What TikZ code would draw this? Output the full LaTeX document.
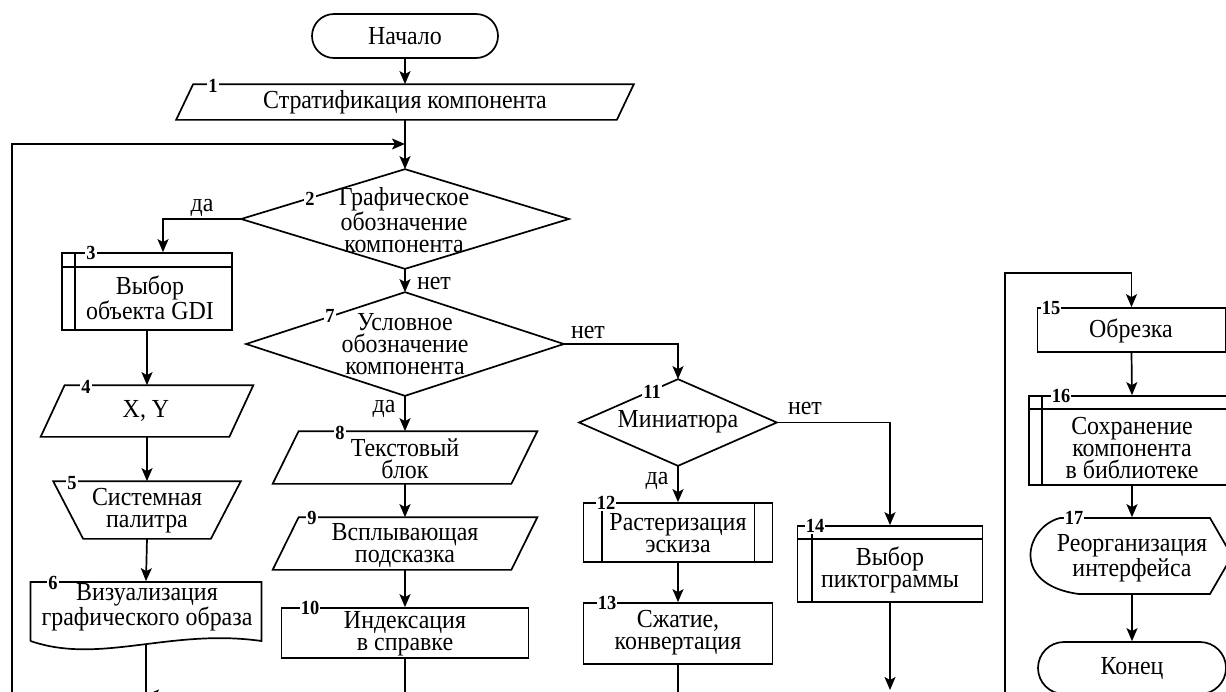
\documentclass[tikz,border=0pt]{standalone}
\usepackage{fontspec}
\setmainfont[FakeStretch=0.92]{Liberation Serif}
\usetikzlibrary{arrows.meta,calc}
\begin{document}
\begin{tikzpicture}[x=1pt,y=-1pt, line width=1.7pt,
  arr/.style={-{Stealth[length=13pt,width=11pt,inset=3pt]}},
  txt/.style={align=center, inner sep=0pt, font=\fontsize{26pt}{22pt}\selectfont},
  num/.style={fill=white, inner sep=1.2pt, font=\fontsize{20pt}{20pt}\selectfont\bfseries},
  lbl/.style={inner sep=0pt, font=\fontsize{26pt}{26pt}\selectfont},
  box/.style n args={2}{inner sep=0pt, minimum width=#1pt, minimum height=#2pt},
]
\useasboundingbox (0,0) rectangle (1226,691);
\clip (0,0) rectangle (1226,691);

% ---------- shapes ----------
\node[box={186}{44}, draw, rounded corners=22pt] (start) at (405,36) {};

\node[box={456}{34}] (b1) at (405,102) {};
\draw ([xshift=17pt]b1.north west) -- (b1.north east) -- ([xshift=-17pt]b1.south east) -- (b1.south west) -- cycle;

\node[box={326}{98}] (d2) at (405,219) {};
\draw (d2.north) -- (d2.east) -- (d2.south) -- (d2.west) -- cycle;

\node[box={170}{77}, draw] (b3) at (147,291.5) {};
\draw ([yshift=-15pt]b3.north west) -- ([yshift=-15pt]b3.north east);
\draw ([xshift=14pt]b3.north west) -- ([xshift=14pt]b3.south west);

\node[box={211}{50}] (b4) at (147,411) {};
\draw ([xshift=24pt]b4.north west) -- (b4.north east) -- ([xshift=-24pt]b4.south east) -- (b4.south west) -- cycle;

\node[box={186}{56}] (b5) at (147,510) {};
\draw (b5.north west) -- (b5.north east) -- ([xshift=-30pt]b5.south east) -- ([xshift=30pt]b5.south west) -- cycle;

\node[box={231}{62}] (b6) at (146,613) {};
\draw (30.5,641) -- (30.5,582) -- (261.5,582) -- (261.5,641) .. controls (170,628) and (100,665) .. (30.5,641);

\node[box={316}{102}] (d7) at (405,344) {};
\draw (d7.north) -- (d7.east) -- (d7.south) -- (d7.west) -- cycle;

\node[box={263}{51}] (b8) at (405,457.5) {};
\draw ([xshift=26pt]b8.north west) -- (b8.north east) -- ([xshift=-26pt]b8.south east) -- (b8.south west) -- cycle;

\node[box={263}{51}] (b9) at (405,543.5) {};
\draw ([xshift=26pt]b9.north west) -- (b9.north east) -- ([xshift=-26pt]b9.south east) -- (b9.south west) -- cycle;

\node[box={247}{50}, draw] (b10) at (405,633) {};

\node[box={196}{85}] (d11) at (678,422.5) {};
\draw (d11.north) -- (d11.east) -- (d11.south) -- (d11.west) -- cycle;

\node[box={189}{59}, draw] (b12) at (678,532.5) {};
\draw ([xshift=19pt]b12.north west) -- ([xshift=19pt]b12.south west);
\draw ([xshift=-19pt]b12.north east) -- ([xshift=-19pt]b12.south east);

\node[box={189}{61}, draw] (b13) at (678,633.5) {};

\node[box={185}{76}, draw] (b14) at (890,564) {};
\draw ([yshift=-14pt]b14.north west) -- ([yshift=-14pt]b14.north east);
\draw ([xshift=15pt]b14.north west) -- ([xshift=15pt]b14.south west);

\node[box={188}{44}, draw] (b15) at (1131.5,330) {};

\node[box={206}{89}, draw] (b16) at (1132,440.5) {};
\draw ([yshift=-14pt]b16.north west) -- ([yshift=-14pt]b16.north east);
\draw ([xshift=14pt]b16.north west) -- ([xshift=14pt]b16.south west);

\node[box={200}{76}] (b17) at (1132,556) {};
\draw (1060,518) -- (1210,518) -- (1232,556) -- (1210,594) -- (1079,594)
      .. controls (1010,585) and (1025,527) .. (1060,518);

\node[box={188}{52}, draw, rounded corners=26pt] (end) at (1132,668) {};

% ---------- connectors ----------
\coordinate (ll) at (12,700);
\coordinate (merge) at (405,144);
\coordinate (j6) at (146,700);
\coordinate (j6b) at (146,695);
\coordinate (e13) at (678,700);
\coordinate (e14) at (890,690);
\coordinate (rl) at (1005,700);

\draw[arr] (start.south) -- (b1.north);
\draw[arr] (b1.south) -- (d2.north);
\draw[arr] (ll) |- (merge);
\draw[arr] (d2.west) -| ([xshift=16pt]b3.north);
\draw[arr] (b3.south) -- (b4.north);
\draw[arr] (b4.south) -- (b5.north);
\draw[arr] (b5.south) -- (b6.north);
\draw (b6.south) -- (j6);
\draw[arr] (d2.south) -- (d7.north);
\draw[arr] (d7.south) -- (b8.north);
\draw[arr] (b8.south) -- (b9.north);
\draw[arr] (b9.south) -- (b10.north);
\draw[arr] (b10.south) |- (j6b);
\draw[arr] (d7.east) -| (d11.north);
\draw[arr] (d11.south) -- (b12.north);
\draw[arr] (b12.south) -- (b13.north);
\draw (b13.south) -- (e13);
\draw[arr] (d11.east) -| (b14.north);
\draw[arr] (b14.south) -- (e14);
\draw[arr] (rl) |- ([yshift=34pt]b15.north) -- (b15.north);
\draw[arr] (b15.south) -- (b16.north);
\draw[arr] (b16.south) -- (b17.north);
\draw[arr] (b17.south) -- (end.north);

% ---------- texts ----------
\node[txt] (t0) at (405,36) {Начало};
\node[txt] (t1) at (405,102) {Стратификация компонента};
\node[txt] (t2) at (404,220) {Графическое\\обозначение\\компонента};
\node[txt] (t3) at (150,298) {Выбор\\объекта GDI};
\node[txt] (t4) at (146,411) {X, Y};
\node[txt] (t5) at (147,511) {Системная\\палитра};
\node[txt] (t6) at (147,607) {Визуализация\\графического образа};
\node[txt] (t7) at (405,344) {Условное\\обозначение\\компонента};
\node[txt] (t8) at (405,459) {Текстовый\\блок};
\node[txt] (t9) at (405,545) {Всплывающая\\подсказка};
\node[txt] (t10) at (405,634) {Индексация\\в справке};
\node[txt] (t11) at (678,422) {Миниатюра};
\node[txt] (t12) at (678,533) {Растеризация\\эскиза};
\node[txt] (t13) at (678,633) {Сжатие,\\конвертация};
\node[txt] (t14) at (890,570) {Выбор\\пиктограммы};
\node[txt] (t15) at (1131,331) {Обрезка};
\node[txt] (t16) at (1132,448) {Сохранение\\компонента\\в библиотеке};
\node[txt] (t17) at (1132,558) {Реорганизация\\интерфейса};
\node[txt] (t18) at (1132,668) {Конец};

% ---------- branch labels ----------
\node[lbl] (y2) at (202,208) {да};
\node[lbl] (n2l) at (434,283) {нет};
\node[lbl] (n7l) at (588,332) {нет};
\node[lbl] (y7) at (384,409) {да};
\node[lbl] (y11) at (657,481) {да};
\node[lbl] (n11l) at (805,408) {нет};

% ---------- block numbers ----------
\node[num] (n1) at (213,86) {1};
\node[num] (n2) at (310,199) {2};
\node[num] (n3) at (91,253) {3};
\node[num] (n4) at (86,387) {4};
\node[num] (n5) at (72,483) {5};
\node[num] (n6) at (53,583) {6};
\node[num] (n7) at (330,316) {7};
\node[num] (n8) at (340,433) {8};
\node[num] (n9) at (312,518) {9};
\node[num] (n10) at (310,608) {10};
\node[num] (n11) at (652,392) {11};
\node[num] (n12) at (606,503) {12};
\node[num] (n13) at (607,603) {13};
\node[num] (n14) at (815,526) {14};
\node[num] (n15) at (1051,308) {15};
\node[num] (n16) at (1061,396) {16};
\node[num] (n17) at (1074,518) {17};
\end{tikzpicture}
\end{document}
